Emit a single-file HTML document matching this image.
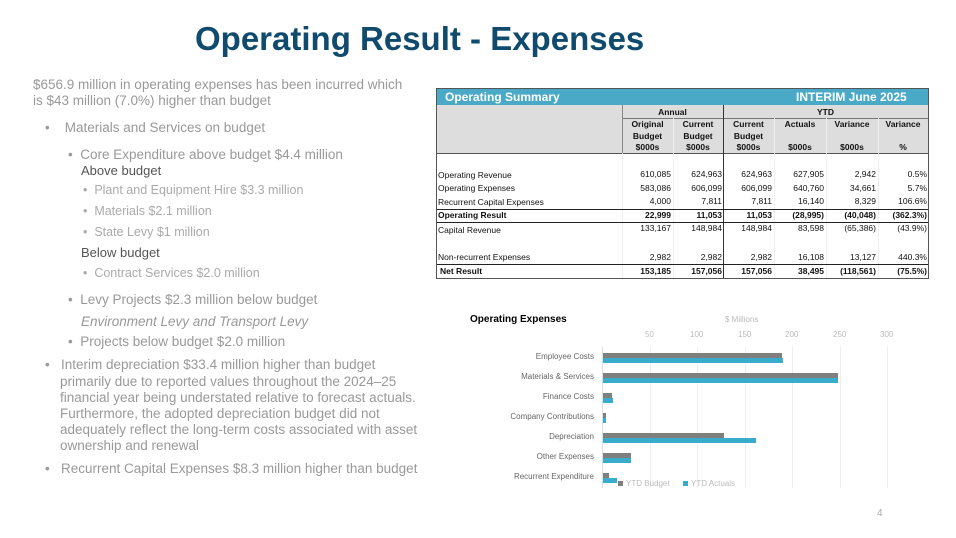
<!DOCTYPE html>
<html><head><meta charset="utf-8"><style>
*{margin:0;padding:0;box-sizing:border-box}
body{width:956px;height:538px;background:#fff;position:relative;overflow:hidden;font-family:"Liberation Sans",sans-serif}
.t{position:absolute;white-space:nowrap;line-height:1}
.l{color:#999;font-size:13.5px}
.d{color:#555;font-size:13px}
.s{color:#aaa;font-size:12.5px}
.tb{position:absolute;font-size:8.5px;line-height:1;white-space:nowrap;color:#111}
.r{text-align:right}
.b{font-weight:bold}
.vl{position:absolute;width:1px;background:#888}
.hl{position:absolute;height:1px;background:#222}
.g{position:absolute;width:1px;background:#eee;top:347px;height:141px}
.ax{position:absolute;font-size:8px;color:#bbb;line-height:1}
.cl{position:absolute;font-size:8px;color:#666;line-height:1;right:362px;white-space:nowrap}
.bg{position:absolute;height:5px;background:#7f7f7f;left:603px}
.bb{position:absolute;height:5px;background:#3aaccb;left:603px}
</style></head><body>
<div class="t" style="left:195px;top:22px;font-size:33px;font-weight:bold;color:#104b6e">Operating Result - Expenses</div>

<div class="t l" style="left:33px;top:78px">$656.9 million in operating expenses has been incurred which</div>
<div class="t l" style="left:33px;top:94px">is $43 million (7.0%) higher than budget</div>
<div class="t l" style="left:45px;top:121px">•&nbsp;&nbsp;&nbsp;&nbsp;Materials and Services on budget</div>
<div class="t l" style="left:68px;top:148px">•&nbsp;&nbsp;Core Expenditure above budget $4.4 million</div>
<div class="t d" style="left:81px;top:164px">Above budget</div>
<div class="t s" style="left:83px;top:184px">•&nbsp;&nbsp;Plant and Equipment Hire $3.3 million</div>
<div class="t s" style="left:83px;top:205px">•&nbsp;&nbsp;Materials $2.1 million</div>
<div class="t s" style="left:83px;top:226px">•&nbsp;&nbsp;State Levy $1 million</div>
<div class="t d" style="left:81px;top:246px">Below budget</div>
<div class="t s" style="left:83px;top:267px">•&nbsp;&nbsp;Contract Services $2.0 million</div>
<div class="t l" style="left:68px;top:293px">•&nbsp;&nbsp;Levy Projects $2.3 million below budget</div>
<div class="t l" style="left:81px;top:315px;font-style:italic">Environment Levy and Transport Levy</div>
<div class="t l" style="left:68px;top:335px">•&nbsp;&nbsp;Projects below budget $2.0 million</div>
<div class="t l" style="left:45px;top:358px">•&nbsp;&nbsp;&nbsp;Interim depreciation $33.4 million higher than budget</div>
<div class="t l" style="left:60px;top:375px">primarily due to reported values throughout the 2024–25</div>
<div class="t l" style="left:60px;top:391px">financial year being understated relative to forecast actuals.</div>
<div class="t l" style="left:60px;top:407px">Furthermore, the adopted depreciation budget did not</div>
<div class="t l" style="left:60px;top:423px">adequately reflect the long-term costs associated with asset</div>
<div class="t l" style="left:60px;top:439px">ownership and renewal</div>
<div class="t l" style="left:45px;top:462px">•&nbsp;&nbsp;&nbsp;Recurrent Capital Expenses $8.3 million higher than budget</div>

<!-- table -->
<div style="position:absolute;left:436px;top:88px;width:493px;height:191px;border:1px solid #555;background:#fff"></div>
<div style="position:absolute;left:437px;top:89px;width:491px;height:16px;background:#49a9c6"></div>
<div class="t" style="left:445px;top:91px;font-size:12px;font-weight:bold;color:#fff">Operating Summary</div>
<div class="t" style="left:796px;top:91px;font-size:12px;font-weight:bold;color:#fff">INTERIM June 2025</div>
<div style="position:absolute;left:437px;top:105px;width:491px;height:48px;background:#ddd"></div>
<div class="hl" style="left:622px;top:118px;width:306px;background:#777"></div>
<div class="hl" style="left:437px;top:153px;width:491px;background:#555"></div>
<div class="vl" style="left:622px;top:105px;height:48px"></div>
<div class="vl" style="left:723px;top:105px;height:173px;background:#333"></div>
<div class="vl" style="left:622px;top:153px;height:125px;background:#eee"></div>
<div class="vl" style="left:673px;top:118px;height:160px;background:#eee"></div>
<div class="vl" style="left:774px;top:118px;height:160px;background:#eee"></div>
<div class="vl" style="left:826px;top:118px;height:160px;background:#eee"></div>
<div class="vl" style="left:878px;top:118px;height:160px;background:#eee"></div>
<div class="tb b" style="left:622px;width:101px;top:108px;text-align:center">Annual</div>
<div class="tb b" style="left:723px;width:205px;top:108px;text-align:center">YTD</div>
<div class="tb b" style="left:622px;width:51px;top:119px;text-align:center;line-height:11.5px">Original<br>Budget<br>$000s</div>
<div class="tb b" style="left:673px;width:50px;top:119px;text-align:center;line-height:11.5px">Current<br>Budget<br>$000s</div>
<div class="tb b" style="left:723px;width:51px;top:119px;text-align:center;line-height:11.5px">Current<br>Budget<br>$000s</div>
<div class="tb b" style="left:774px;width:52px;top:119px;text-align:center;line-height:11.5px">Actuals<br><br>$000s</div>
<div class="tb b" style="left:826px;width:52px;top:119px;text-align:center;line-height:11.5px">Variance<br><br>$000s</div>
<div class="tb b" style="left:878px;width:50px;top:119px;text-align:center;line-height:11.5px">Variance<br><br>%</div>

<div class="hl" style="left:437px;top:209px;width:491px"></div>
<div class="hl" style="left:437px;top:222px;width:491px"></div>
<div class="hl" style="left:437px;top:264px;width:491px"></div>

<div class="tb" style="left:438px;top:171px">Operating Revenue</div>
<div class="tb" style="left:438px;top:184px">Operating Expenses</div>
<div class="tb" style="left:438px;top:198px">Recurrent Capital Expenses</div>
<div class="tb b" style="left:438px;top:211px">Operating Result</div>
<div class="tb" style="left:438px;top:226px">Capital Revenue</div>
<div class="tb" style="left:438px;top:253px">Non-recurrent Expenses</div>
<div class="tb b" style="left:440px;top:267px">Net Result</div>

<div class="tb r" style="left:622px;width:49px;top:168px;line-height:13.6px">610,085<br>583,086<br>4,000<br><b>22,999</b><br>133,167</div>
<div class="tb r" style="left:673px;width:49px;top:168px;line-height:13.6px">624,963<br>606,099<br>7,811<br><b>11,053</b><br>148,984</div>
<div class="tb r" style="left:723px;width:49px;top:168px;line-height:13.6px">624,963<br>606,099<br>7,811<br><b>11,053</b><br>148,984</div>
<div class="tb r" style="left:774px;width:50px;top:168px;line-height:13.6px">627,905<br>640,760<br>16,140<br><b>(28,995)</b><br>83,598</div>
<div class="tb r" style="left:826px;width:50px;top:168px;line-height:13.6px">2,942<br>34,661<br>8,329<br><b>(40,048)</b><br>(65,386)</div>
<div class="tb r" style="left:878px;width:49px;top:168px;line-height:13.6px">0.5%<br>5.7%<br>106.6%<br><b>(362.3%)</b><br>(43.9%)</div>

<div class="tb r" style="left:622px;width:49px;top:250px;line-height:14px">2,982<br><b>153,185</b></div>
<div class="tb r" style="left:673px;width:49px;top:250px;line-height:14px">2,982<br><b>157,056</b></div>
<div class="tb r" style="left:723px;width:49px;top:250px;line-height:14px">2,982<br><b>157,056</b></div>
<div class="tb r" style="left:774px;width:50px;top:250px;line-height:14px">16,108<br><b>38,495</b></div>
<div class="tb r" style="left:826px;width:50px;top:250px;line-height:14px">13,127<br><b>(118,561)</b></div>
<div class="tb r" style="left:878px;width:49px;top:250px;line-height:14px">440.3%<br><b>(75.5%)</b></div>

<!-- chart -->
<div class="t" style="left:470px;top:315px;font-size:10px;font-weight:bold;color:#000">Operating Expenses</div>
<div class="ax" style="left:725px;top:316px">$ Millions</div>
<div class="g" style="left:602px;background:#ddd"></div>
<div class="g" style="left:650px"></div><div class="g" style="left:697px"></div><div class="g" style="left:745px"></div>
<div class="g" style="left:792px"></div><div class="g" style="left:840px"></div><div class="g" style="left:887px"></div>
<div class="ax" style="left:645px;top:331px">50</div>
<div class="ax" style="left:690px;top:331px">100</div>
<div class="ax" style="left:738px;top:331px">150</div>
<div class="ax" style="left:785px;top:331px">200</div>
<div class="ax" style="left:833px;top:331px">250</div>
<div class="ax" style="left:880px;top:331px">300</div>

<div class="cl" style="top:353px">Employee Costs</div>
<div class="cl" style="top:373px">Materials &amp; Services</div>
<div class="cl" style="top:393px">Finance Costs</div>
<div class="cl" style="top:413px">Company Contributions</div>
<div class="cl" style="top:433px">Depreciation</div>
<div class="cl" style="top:453px">Other Expenses</div>
<div class="cl" style="top:473px">Recurrent Expenditure</div>

<div class="bg" style="top:353px;width:179px"></div><div class="bb" style="top:358px;width:180px"></div>
<div class="bg" style="top:373px;width:235px"></div><div class="bb" style="top:378px;width:235px"></div>
<div class="bg" style="top:393px;width:9px"></div><div class="bb" style="top:398px;width:10px"></div>
<div class="bg" style="top:413px;width:3px"></div><div class="bb" style="top:418px;width:3px"></div>
<div class="bg" style="top:433px;width:121px"></div><div class="bb" style="top:438px;width:153px"></div>
<div class="bg" style="top:453px;width:28px"></div><div class="bb" style="top:458px;width:28px"></div>
<div class="bg" style="top:473px;width:6px"></div><div class="bb" style="top:478px;width:14px"></div>

<div style="position:absolute;left:618px;top:481px;width:5px;height:5px;background:#7f7f7f"></div>
<div class="ax" style="left:626px;top:480px;color:#bbb">YTD Budget</div>
<div style="position:absolute;left:683px;top:481px;width:5px;height:5px;background:#3aaccb"></div>
<div class="ax" style="left:691px;top:480px;color:#bbb">YTD Actuals</div>

<div class="t" style="left:877px;top:509px;font-size:10px;color:#aaa">4</div>
</body></html>
